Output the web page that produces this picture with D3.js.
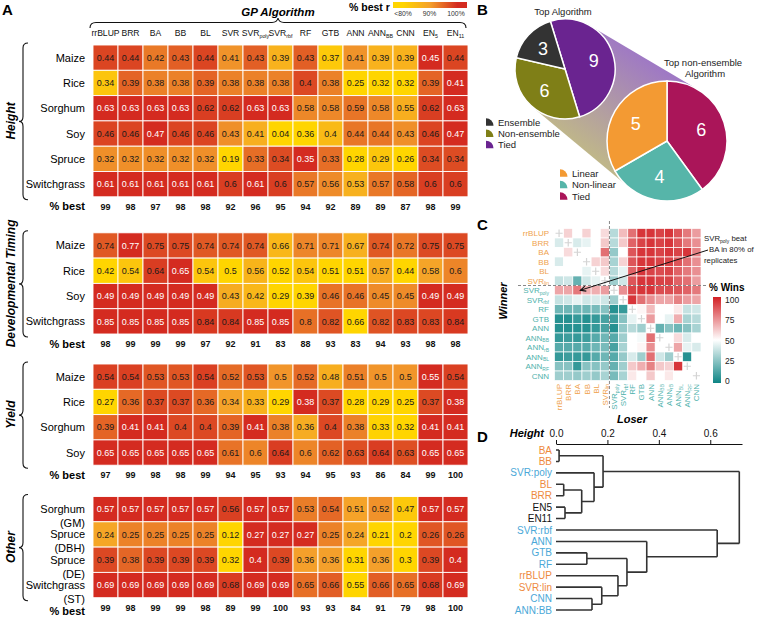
<!DOCTYPE html>
<html>
<head>
<meta charset="utf-8">
<script src="https://cdn.jsdelivr.net/npm/d3@7/dist/d3.min.js"></script>
<style>
html,body{margin:0;padding:0;background:#fff;}
svg text{font-family:"Liberation Sans",Arial,Helvetica,sans-serif;}
</style>
</head>
<body>
<svg id="chart" width="757" height="617"></svg>
<script>
// ================= DATA =================
// Panel A
const algorithms = [["rrBLUP"],["BRR"],["BA"],["BB"],["BL"],["SVR"],["SVR","poly"],["SVR","rbf"],["RF"],["GTB"],["ANN"],["ANN","BB"],["CNN"],["EN","5"],["EN","11"]];

const heightTraits = ["Maize","Rice","Sorghum","Soy","Spruce","Switchgrass"];
const heightR = [
 [0.44,0.44,0.42,0.43,0.44,0.41,0.43,0.39,0.43,0.37,0.41,0.39,0.39,0.45,0.44],
 [0.34,0.39,0.38,0.38,0.39,0.38,0.38,0.38,0.4,0.38,0.25,0.32,0.32,0.39,0.41],
 [0.63,0.63,0.63,0.63,0.62,0.62,0.63,0.63,0.58,0.58,0.59,0.58,0.55,0.62,0.63],
 [0.46,0.46,0.47,0.46,0.46,0.43,0.41,0.04,0.36,0.4,0.44,0.44,0.43,0.46,0.47],
 [0.32,0.32,0.32,0.32,0.32,0.19,0.33,0.34,0.35,0.33,0.28,0.29,0.26,0.34,0.34],
 [0.61,0.61,0.61,0.61,0.61,0.6,0.61,0.6,0.57,0.56,0.53,0.57,0.58,0.6,0.6]
];
const heightBest = [99,98,97,98,98,92,96,95,94,92,89,89,87,98,99];

const devTraits = ["Maize","Rice","Soy","Switchgrass"];
const devR = [
 [0.74,0.77,0.75,0.75,0.74,0.74,0.74,0.66,0.71,0.71,0.67,0.74,0.72,0.75,0.75],
 [0.42,0.54,0.64,0.65,0.54,0.5,0.56,0.52,0.54,0.51,0.51,0.57,0.44,0.58,0.6],
 [0.49,0.49,0.49,0.49,0.49,0.43,0.42,0.29,0.39,0.46,0.46,0.45,0.45,0.49,0.49],
 [0.85,0.85,0.85,0.85,0.84,0.84,0.85,0.85,0.8,0.82,0.66,0.82,0.83,0.83,0.84]
];
const devBest = [98,99,99,99,97,92,91,83,88,93,83,94,93,98,98];

const yieldTraits = ["Maize","Rice","Sorghum","Soy"];
const yieldR = [
 [0.54,0.54,0.53,0.53,0.54,0.52,0.53,0.5,0.52,0.48,0.51,0.5,0.5,0.55,0.54],
 [0.27,0.36,0.37,0.37,0.36,0.34,0.33,0.29,0.38,0.37,0.28,0.29,0.25,0.37,0.38],
 [0.39,0.41,0.41,0.4,0.4,0.39,0.41,0.38,0.36,0.4,0.38,0.33,0.32,0.41,0.41],
 [0.65,0.65,0.65,0.65,0.65,0.61,0.6,0.64,0.6,0.62,0.63,0.64,0.63,0.65,0.65]
];
const yieldBest = [97,99,98,98,99,94,95,93,94,95,93,86,84,99,100];

const otherTraits = [["Sorghum","(GM)"],["Spruce","(DBH)"],["Spruce","(DE)"],["Switchgrass","(ST)"]];
const otherR = [
 [0.57,0.57,0.57,0.57,0.57,0.56,0.57,0.57,0.53,0.54,0.51,0.52,0.47,0.57,0.57],
 [0.24,0.25,0.25,0.25,0.25,0.12,0.27,0.27,0.27,0.25,0.24,0.21,0.2,0.26,0.26],
 [0.39,0.38,0.39,0.39,0.39,0.32,0.4,0.39,0.36,0.36,0.31,0.36,0.30,0.39,0.4],
 [0.69,0.69,0.69,0.69,0.69,0.68,0.69,0.69,0.65,0.66,0.55,0.66,0.65,0.68,0.69]
];
const otherBest = [99,98,99,99,98,89,99,100,93,93,84,91,79,98,100];

const legendTicksA = ["<80%","90%","100%"];

// Panel B
const topAlgCats = ["Tied","Non-ensemble","Ensemble"];
const topAlgCounts = [9,6,3];
const topAlgLegend = ["Ensemble","Non-ensemble","Tied"];
const topNonEnsCats = ["Tied","Non-linear","Linear"];
const topNonEnsCounts = [6,4,5];
const topNonEnsLegend = ["Linear","Non-linear","Tied"];

// Panel C
const cAlgs = [["rrBLUP"],["BRR"],["BA"],["BB"],["BL"],["SVR","lin"],["SVR","poly"],["SVR","rbf"],["RF"],["GTB"],["ANN"],["ANN","BB"],["ANN","rB"],["ANN","BL"],["ANN","RF"],["CNN"]];
const cLinear = ["rrBLUP","BRR","BA","BB","BL","SVRlin"];
const pctWins = [
 [null,60,50,60,50,58,35,65, 82,95,95,92,95,88,80,72],
 [42,null,42,45,50,62,35,62, 85,92,95,92,95,88,80,75],
 [50,58,null,50,50,82,28,50, 88,95,95,92,95,92,95,78],
 [42,50,50,null,60,62,32,60, 88,95,95,92,92,88,82,75],
 [50,50,50,45,null,58,35,45, 85,95,92,90,92,85,80,75],
 [38,40,18,40,45,null,30,40, 88,95,95,92,92,85,82,72],
 [70,70,80,68,68,72,null,75, 92,95,95,90,90,88,85,80],
 [38,40,45,40,42,40,30,null, 95,82,75,70,70,78,72,70],
 [20,20,20,20,22,25,5,8, null,52,65,50,50,55,38,40],
 [5,5,8,5,8,12,10,25, 45,null,72,50,45,68,32,35],
 [5,5,5,5,8,12,5,28, 35,30,null,18,25,20,25,32],
 [8,10,8,10,15,20,15,30, 50,48,82,null,50,58,42,50],
 [15,15,15,15,20,22,12,32, 50,52,75,50,null,70,45,42],
 [8,10,8,8,15,20,15,28, 42,30,82,40,30,null,5,50],
 [25,25,8,25,25,28,18,30, 62,68,78,62,60,95,null,50],
 [30,30,28,30,28,32,22,32, 55,50,62,50,55,50,50,null]
];
const winTicks = [0,25,50,75,100];

// Panel D
const dendroTree = {h:0.713, c:[
  {h:0.183, c:[ {h:0.012, c:["BA","BB"]},
                {h:0.148, c:["SVR:poly", {h:0.10, c:[{h:0.03, c:["BL","BRR"]}, {h:0.035, c:["EN5","EN11"]}]}]} ]},
  {h:0.627, c:["SVR:rbf", {h:0.353, c:["ANN", {h:0.276, c:[{h:0.12, c:["GTB","RF"]},
                {h:0.241, c:["rrBLUP", {h:0.178, c:["SVR:lin", {h:0.14, c:["CNN","ANN:BB"]}]}]}]}]}]}
]};
const dendroLinear = ["BA","BB","BL","BRR","rrBLUP","SVR:lin"];
const dendroEnsemble = ["EN5","EN11"];
const heightTicks = [0,0.2,0.4,0.6];

// ================= DRAWING =================
const svg = d3.select("#chart");
const defs = svg.append("defs");
const ORANGE_T = "#EFA24E", TEAL_T = "#4FB2AC";

[["A",2,15],["B",477,15],["C",477,230],["D",477,442]].forEach(([t,x,y]) =>
  svg.append("text").attr("x",x).attr("y",y).attr("font-size",15).attr("font-weight","bold").text(t));

function addSub(textSel, lab, subSize, dy) {
  textSel.append("tspan").text(lab[0]);
  if (lab.length > 1) textSel.append("tspan").attr("font-size", subSize).attr("dy", dy).text(lab[1]);
}

// ---------- Panel A ----------
const gA = svg.append("g");
const xA = d3.scaleBand().domain(d3.range(algorithms.length)).range([93, 468]);
const ratioColor = d3.scaleLinear().domain([0.8, 0.9, 1.0]).range(["#FFD500", "#F4A02B", "#D42B20"]).clamp(true);

gA.append("text").attr("x", 278).attr("y", 15.5).attr("text-anchor","middle")
  .attr("font-size", 11.5).attr("font-weight","bold").attr("font-style","italic").text("GP Algorithm");
gA.append("path").attr("fill","none").attr("stroke","#111").attr("stroke-width",1.1)
  .attr("d","M90,28 Q90,22.5 96,22.5 L272,22.5 Q277,22.5 278,18 Q279,22.5 284,22.5 L460,22.5 Q466,22.5 466,28");

algorithms.forEach((lab, i) => {
  const t = gA.append("text").attr("x", xA(i) + xA.bandwidth()/2).attr("y", 35.5)
    .attr("text-anchor","middle").attr("font-size", 8.6).attr("fill","#111");
  addSub(t, lab, 5.3, 2);
});

// legend
const lgA = defs.append("linearGradient").attr("id","gradA");
[[0,0.8],[0.135,0.8],[0.5,0.9],[0.87,1.0],[1,1.0]].forEach(([o,v]) =>
  lgA.append("stop").attr("offset", o).attr("stop-color", ratioColor(v)));
gA.append("text").attr("x", 349).attr("y", 11).attr("font-size", 10.5).attr("font-weight","bold").text("% best r");
gA.append("rect").attr("x", 393).attr("y", 2).attr("width", 74).attr("height", 6).attr("fill","url(#gradA)");
const legX = d3.scalePoint().domain(legendTicksA).range([403, 456]);
legendTicksA.forEach(t => gA.append("text").attr("x", legX(t)).attr("y", 16).attr("text-anchor","middle")
  .attr("font-size", 6.8).attr("fill","#333").text(t));

const sections = [
  {title:"Height", traits:heightTraits, values:heightR, best:heightBest},
  {title:"Developmental Timing", traits:devTraits, values:devR, best:devBest},
  {title:"Yield", traits:yieldTraits, values:yieldR, best:yieldBest},
  {title:"Other", traits:otherTraits, values:otherR, best:otherBest}
];
const sectionTops = [45, 232.8, 364, 496.5];
const rowH = 25.3;

function vBrace(x, y0, y1) {
  const ym = (y0 + y1) / 2;
  return `M${x+5},${y0} Q${x},${y0} ${x},${y0+5} L${x},${ym-5} Q${x},${ym} ${x-4},${ym} Q${x},${ym} ${x},${ym+5} L${x},${y1-5} Q${x},${y1} ${x+5},${y1}`;
}

sections.forEach((s, si) => {
  const top = sectionTops[si];
  const bottom = top + rowH * s.traits.length;
  const yS = d3.scaleBand().domain(d3.range(s.traits.length)).range([top, bottom]);
  s.values.forEach((row, ri) => {
    const mx = d3.max(row);
    const g = gA.append("g");
    g.selectAll("rect").data(row).join("rect")
      .attr("x", (d, j) => xA(j)).attr("y", yS(ri))
      .attr("width", xA.bandwidth()).attr("height", yS.bandwidth())
      .attr("fill", d => ratioColor(d / mx)).attr("stroke","#fff").attr("stroke-width", 0.9);
    g.selectAll("text").data(row).join("text")
      .attr("x", (d, j) => xA(j) + xA.bandwidth()/2).attr("y", yS(ri) + yS.bandwidth()/2 + 3.2)
      .attr("text-anchor","middle").attr("font-size", 9)
      .attr("fill", d => d / mx >= 0.995 ? "#fff" : "#1a1a1a").text(d => String(d));
    const lab = s.traits[ri];
    const cy = yS(ri) + yS.bandwidth()/2;
    if (Array.isArray(lab)) {
      gA.append("text").attr("x", 85).attr("y", cy + 4).attr("text-anchor","end").attr("font-size", 11).text(lab[0]);
      gA.append("text").attr("x", 85).attr("y", cy + 18).attr("text-anchor","end").attr("font-size", 11).text(lab[1]);
    } else {
      gA.append("text").attr("x", 85).attr("y", cy + 4).attr("text-anchor","end").attr("font-size", 11).text(lab);
    }
  });
  const twoLine = Array.isArray(s.traits[0]);
  const by = bottom + 9.5;
  gA.append("text").attr("x", 85).attr("y", by + 4 + (twoLine ? 4 : 0)).attr("text-anchor","end")
    .attr("font-size", 11).attr("font-weight","bold").text("% best");
  gA.selectAll(null).data(s.best).join("text")
    .attr("x", (d, j) => xA(j) + xA.bandwidth()/2).attr("y", by + 3.3)
    .attr("text-anchor","middle").attr("font-size", 9).attr("font-weight","bold").attr("fill","#111").text(d => d);
  gA.append("path").attr("fill","none").attr("stroke","#111").attr("stroke-width",1.1)
    .attr("d", vBrace(23, top - 2, bottom + 3));
  const cyS = (top + bottom) / 2;
  gA.append("text").attr("transform", `translate(15,${cyS}) rotate(-90)`).attr("text-anchor","middle")
    .attr("font-size", 12).attr("font-weight","bold").attr("font-style","italic").text(s.title);
});

// ---------- Panel B ----------
const gB = svg.append("g");
const c1 = {x:565, y:69, r:50}, c2 = {x:667, y:141, r:60};
const colB1 = d3.scaleOrdinal().domain(["Ensemble","Non-ensemble","Tied"]).range(["#333333","#7F7F17","#6A2490"]);
const colB2 = d3.scaleOrdinal().domain(["Linear","Non-linear","Tied"]).range(["#F39A33","#56B5A9","#AA1559"]);

// connector band
const ddx = c2.x - c1.x, ddy = c2.y - c1.y, dist = Math.hypot(ddx, ddy);
const th = Math.atan2(ddy, ddx), al = Math.acos((c1.r - c2.r) / dist);
const tp = (c, a) => [c.x + c.r * Math.cos(a), c.y + c.r * Math.sin(a)];
const P = [tp(c1, th - al), tp(c2, th - al), tp(c2, th + al), tp(c1, th + al)];
const gB1 = defs.append("linearGradient").attr("id","gradB").attr("gradientUnits","userSpaceOnUse")
  .attr("x1", (P[0][0]+P[1][0])/2).attr("y1", (P[0][1]+P[1][1])/2)
  .attr("x2", (P[2][0]+P[3][0])/2).attr("y2", (P[2][1]+P[3][1])/2);
gB1.append("stop").attr("offset",0).attr("stop-color","#9F79C4");
gB1.append("stop").attr("offset",1).attr("stop-color","#BFB68A");
gB.append("path").attr("d", "M" + P.map(p => p.join(",")).join("L") + "Z").attr("fill","url(#gradB)");

function drawPie(c, cats, counts, start, colorScale) {
  const pie = d3.pie().sort(null).value(d => d).startAngle(start).endAngle(start + 2*Math.PI);
  const arcs = pie(counts);
  const arc = d3.arc().innerRadius(0).outerRadius(c.r);
  const lab = d3.arc().innerRadius(c.r*0.6).outerRadius(c.r*0.6);
  const g = gB.append("g").attr("transform", `translate(${c.x},${c.y})`);
  g.selectAll("path").data(arcs).join("path").attr("d", arc)
    .attr("fill", (d, i) => colorScale(cats[i])).attr("stroke","#fff").attr("stroke-width",1.5);
  g.selectAll("text").data(arcs).join("text")
    .attr("x", d => lab.centroid(d)[0]).attr("y", d => lab.centroid(d)[1] + 6.5)
    .attr("text-anchor","middle").attr("font-size",18).attr("fill","#fff").text(d => d.data);
}
drawPie(c1, topAlgCats, topAlgCounts, -17 * Math.PI/180, colB1);
drawPie(c2, topNonEnsCats, topNonEnsCounts, 0, colB2);

gB.append("text").attr("x", 563).attr("y", 14.5).attr("text-anchor","middle").attr("font-size", 9.5).attr("fill","#222").text("Top Algorithm");
gB.append("text").attr("x", 703).attr("y", 66).attr("text-anchor","middle").attr("font-size", 9.5).attr("fill","#222").text("Top non-ensemble");
gB.append("text").attr("x", 705).attr("y", 77).attr("text-anchor","middle").attr("font-size", 9.5).attr("fill","#222").text("Algorithm");

function legendB(names, colorScale, x, y0, step) {
  names.forEach((n, i) => {
    const y = y0 + i * step;
    const s = 7.5, yb = y + s/2;
    gB.append("path").attr("d", `M${x},${yb} L${x},${yb-s} A${s},${s} 0 0 1 ${x+s},${yb} Z`).attr("fill", colorScale(n));
    gB.append("text").attr("x", x + 12).attr("y", y + 3.5).attr("font-size", 9.5).attr("fill","#222").text(n);
  });
}
legendB(topAlgLegend, colB1, 486, 122, 11.2);
legendB(topNonEnsLegend, colB2, 560, 173, 11.5);

// ---------- Panel C ----------
const gC = svg.append("g");
const cKeys = cAlgs.map(a => a.join(""));
const xC = d3.scaleBand().domain(cKeys).range([554.5, 701]);
const yC = d3.scaleBand().domain(cKeys).range([228.5, 380.5]);
const winColor = d3.scaleLinear().domain([0, 50, 100]).range(["#0E8585", "#ffffff", "#D21F24"]);
const labColor = k => cLinear.includes(k) ? ORANGE_T : TEAL_T;

pctWins.forEach((row, i) => {
  row.forEach((v, j) => {
    const x = xC(cKeys[j]), y = yC(cKeys[i]), w = xC.bandwidth(), h = yC.bandwidth();
    if (v === null) {
      gC.append("path").attr("d", `M${x+1},${y+h/2}H${x+w-1}M${x+w/2},${y+1}V${y+h-1}`)
        .attr("stroke","#d4d4d4").attr("stroke-width",1.2);
    } else {
      gC.append("rect").attr("x", x).attr("y", y).attr("width", w).attr("height", h)
        .attr("fill", winColor(v)).attr("stroke","#fff").attr("stroke-width",0.7);
    }
  });
});
cAlgs.forEach((a, i) => {
  const k = cKeys[i];
  const t = gC.append("text").attr("x", 549).attr("y", yC(k) + yC.bandwidth()/2 + 3)
    .attr("text-anchor","end").attr("font-size", 8).attr("fill", labColor(k));
  addSub(t, a, 5, 1.5);
  const cx = xC(k) + xC.bandwidth()/2 + 3;
  const t2 = gC.append("text").attr("transform", `translate(${cx},384) rotate(-90)`)
    .attr("text-anchor","end").attr("font-size", 8).attr("fill", labColor(k));
  addSub(t2, a, 5, 1.5);
});
const splitX = xC(cKeys[6]), splitY = yC(cKeys[6]);
gC.append("line").attr("x1", splitX).attr("x2", splitX).attr("y1", 221).attr("y2", 408)
  .attr("stroke","#888").attr("stroke-width",1).attr("stroke-dasharray","3,2");
gC.append("line").attr("x1", 518).attr("x2", 708).attr("y1", splitY).attr("y2", splitY)
  .attr("stroke","#888").attr("stroke-width",1).attr("stroke-dasharray","3,2");

gC.append("text").attr("transform","translate(507,301) rotate(-90)").attr("text-anchor","middle")
  .attr("font-size", 11).attr("font-weight","bold").attr("font-style","italic").text("Winner");
gC.append("text").attr("x", 632).attr("y", 423).attr("text-anchor","middle")
  .attr("font-size", 11).attr("font-weight","bold").attr("font-style","italic").text("Loser");

// annotation
const tA = gC.append("text").attr("x", 704).attr("y", 241).attr("font-size", 7.8).attr("fill","#222");
tA.append("tspan").text("SVR");
tA.append("tspan").attr("font-size", 5).attr("dy", 2).text("poly");
tA.append("tspan").attr("dy", -2).text(" beat");
gC.append("text").attr("x", 709).attr("y", 252).attr("font-size", 7.8).attr("fill","#222").text("BA in 80% of");
gC.append("text").attr("x", 704).attr("y", 263).attr("font-size", 7.8).attr("fill","#222").text("replicates");
const ax0 = 708, ay0 = 250;
const ax1 = xC(cKeys[2]) + xC.bandwidth()/2 + 3, ay1 = yC(cKeys[6]) + yC.bandwidth()/2;
const ang = Math.atan2(ay1 - ay0, ax1 - ax0);
gC.append("line").attr("x1", ax0).attr("y1", ay0).attr("x2", ax1).attr("y2", ay1).attr("stroke","#111").attr("stroke-width",1);
const hl = 6, ha = 0.45;
gC.append("path").attr("fill","none").attr("stroke","#111").attr("stroke-width",1.1)
  .attr("d", `M${ax1 - hl*Math.cos(ang - ha)},${ay1 - hl*Math.sin(ang - ha)} L${ax1},${ay1} L${ax1 - hl*Math.cos(ang + ha)},${ay1 - hl*Math.sin(ang + ha)}`);

// legend C
gC.append("text").attr("x", 709).attr("y", 291).attr("font-size", 10).attr("font-weight","bold").text("% Wins");
const lgC = defs.append("linearGradient").attr("id","gradC").attr("x1",0).attr("x2",0).attr("y1",0).attr("y2",1);
[100,75,50,25,0].forEach((v, i) => lgC.append("stop").attr("offset", i/4).attr("stop-color", winColor(v)));
const yLeg = d3.scaleLinear().domain([0,100]).range([381, 300]);
gC.append("rect").attr("x", 713).attr("y", 297).attr("width", 8).attr("height", 86).attr("fill","url(#gradC)");
winTicks.forEach(v => gC.append("text").attr("x", 725).attr("y", yLeg(v) + 3).attr("font-size", 8.5).attr("fill","#222").text(v));

// ---------- Panel D ----------
const gD = svg.append("g");
const hx = d3.scaleLinear().domain([0, 0.7235]).range([556, 742]);
const root = d3.hierarchy(dendroTree, d => (typeof d === "object" ? d.c : null));
const leaves = root.leaves();
const yLeaf = d3.scalePoint().domain(leaves.map(l => l.data)).range([450, 610]);
root.eachAfter(n => {
  if (!n.children) { n.py = yLeaf(n.data); n.ph = 0; }
  else { n.py = d3.mean(n.children, c => c.py); n.ph = n.data.h; }
});
let dPath = "";
root.each(n => {
  if (!n.children) return;
  const x = hx(n.ph);
  const ys = n.children.map(c => c.py);
  dPath += `M${x},${d3.min(ys)}V${d3.max(ys)}`;
  n.children.forEach(c => { dPath += `M${hx(c.ph)},${c.py}H${x}`; });
});
gD.append("path").attr("d", dPath).attr("fill","none").attr("stroke","#333").attr("stroke-width",1.6);
leaves.forEach(l => {
  const col = dendroLinear.includes(l.data) ? "#EE8A3E" : dendroEnsemble.includes(l.data) ? "#111" : "#4BA8D8";
  gD.append("text").attr("x", 552).attr("y", l.py + 3.5).attr("text-anchor","end").attr("font-size", 10).attr("fill", col).text(l.data);
});
const axD = gD.append("g").attr("transform","translate(0,444)")
  .call(d3.axisTop(hx).tickValues(heightTicks).tickFormat(d3.format(".1f")).tickSize(4).tickSizeOuter(0));
axD.select(".domain").attr("stroke","#111");
axD.selectAll(".tick line").attr("stroke","#111");
axD.selectAll(".tick text").attr("font-size", 10).attr("fill","#111").attr("font-family",'"Liberation Sans",Arial,sans-serif');
gD.append("text").attr("x", 544).attr("y", 437).attr("text-anchor","end")
  .attr("font-size", 11).attr("font-weight","bold").attr("font-style","italic").text("Height");
</script>
</body>
</html>
